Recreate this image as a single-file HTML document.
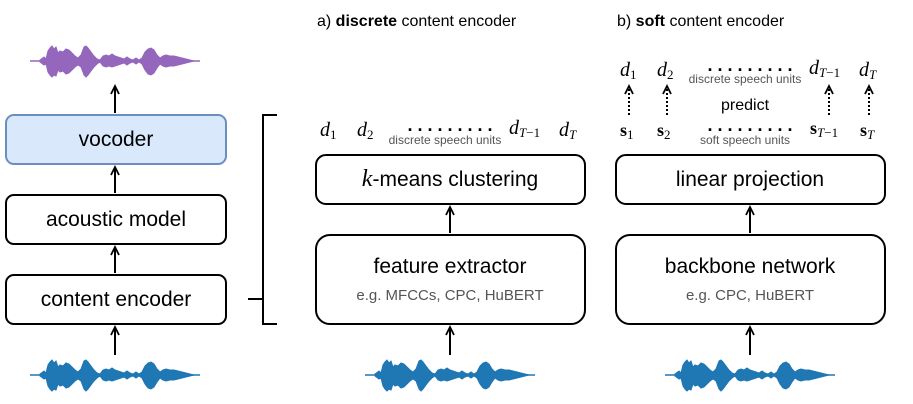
<!DOCTYPE html>
<html><head><meta charset="utf-8"><style>
html,body{margin:0;padding:0;background:#fff;}
svg{display:block;font-family:"Liberation Sans",sans-serif;}
.m{font-family:"Liberation Serif",serif;font-style:italic;font-size:20px;}
.b{font-family:"Liberation Serif",serif;font-weight:bold;font-size:18px;}
.sub{font-size:13px;}
</style></head><body>
<svg width="913" height="404" viewBox="0 0 913 404" xmlns="http://www.w3.org/2000/svg">
<defs>
<marker id="ah" markerWidth="12" markerHeight="12" refX="9" refY="5" orient="auto" markerUnits="userSpaceOnUse">
<path d="M1,1 L9,5 L1,9" fill="none" stroke="#000" stroke-width="1.8"/>
</marker>
<g id="wave">
<line x1="0" y1="0" x2="170" y2="0" stroke-width="1.5"/>
<polygon points="10,-1 14,-4 16,-2 18,-10 20,-13 22,-15 24,-12 26,-14 28,-8 30,-10 33,-9 36,-12 39,-11 42,-8 45,-5 48,-3 51,-6 54,-14 56,-15 58,-13 61,-9 64,-5 67,-2 70,-1 73,-5 76,-6 79,-5 82,-7 85,-5 88,-4 91,-3 94,-2 97,-4 100,-2 103,-1 106,-3 109,-1 112,-3 115,-9 118,-12 121,-13 124,-11 127,-6 130,-3 133,-5 136,-6 140,-5 144,-5 148,-4 152,-3 156,-2 160,-1 164,0
 160,1 156,2 152,3 148,4 144,5 140,5 136,6 133,5 130,3 127,7 124,12 121,14 118,13 115,9 112,3 109,1 106,3 103,1 100,2 97,4 94,2 91,3 88,4 85,5 82,6 79,5 76,6 73,5 70,1 67,3 64,6 61,10 58,14 56,16 54,14 51,6 48,4 45,6 42,9 39,12 36,13 33,10 30,11 28,9 26,15 24,14 22,16 20,14 18,11 16,3 14,4 10,1"/>
</g>
</defs>

<use href="#wave" x="30" y="61" fill="#9467bd" stroke="#9467bd"/>
<use href="#wave" x="30" y="375" fill="#1f77b4" stroke="#1f77b4"/>
<use href="#wave" x="365" y="375" fill="#1f77b4" stroke="#1f77b4"/>
<use href="#wave" x="665" y="375" fill="#1f77b4" stroke="#1f77b4"/>

<g stroke="#000" stroke-width="2" fill="none">
<rect x="6" y="115" width="220" height="49" rx="8" fill="#dae8fc" stroke="#6c8ebf"/>
<rect x="6" y="195" width="220" height="49" rx="8" fill="#fff"/>
<rect x="6" y="275" width="220" height="49" rx="8" fill="#fff"/>
<rect x="316" y="155" width="269" height="49" rx="10" fill="#fff"/>
<rect x="316" y="235" width="269" height="89" rx="14" fill="#fff"/>
<rect x="616" y="155" width="269" height="49" rx="10" fill="#fff"/>
<rect x="616" y="235" width="269" height="89" rx="14" fill="#fff"/>
<path d="M277,115 H263 V324 H277 M248,299 H263"/>
</g>

<g stroke="#000" stroke-width="2" marker-end="url(#ah)">
<line x1="115" y1="355" x2="115" y2="327"/>
<line x1="115" y1="273" x2="115" y2="247"/>
<line x1="115" y1="193" x2="115" y2="167"/>
<line x1="115" y1="113" x2="115" y2="86"/>
<line x1="450" y1="355" x2="450" y2="327"/>
<line x1="450" y1="233" x2="450" y2="207"/>
<line x1="750" y1="355" x2="750" y2="327"/>
<line x1="750" y1="233" x2="750" y2="207"/>
</g>
<g stroke="#000" stroke-width="2" stroke-dasharray="2,2" marker-end="url(#ah)">
<line x1="629" y1="115" x2="629" y2="86"/>
<line x1="667" y1="115" x2="667" y2="86"/>
<line x1="829" y1="115" x2="829" y2="86"/>
<line x1="869" y1="115" x2="869" y2="86"/>
</g>

<g font-size="21" text-anchor="middle" fill="#000">
<text x="116" y="146">vocoder</text>
<text x="116" y="226">acoustic model</text>
<text x="116" y="306">content encoder</text>
<text x="450" y="186"><tspan class="m" style="font-size:24px">k</tspan>-means clustering</text>
<text x="450" y="273">feature extractor</text>
<text x="750" y="186">linear projection</text>
<text x="750" y="273">backbone network</text>
</g>
<g font-size="15" text-anchor="middle" fill="#555">
<text x="450" y="300">e.g. MFCCs, CPC, HuBERT</text>
<text x="750" y="300">e.g. CPC, HuBERT</text>
</g>
<g font-size="16" fill="#000">
<text x="317" y="26">a) <tspan font-weight="bold">discrete</tspan> content encoder</text>
<text x="617" y="26">b) <tspan font-weight="bold">soft</tspan> content encoder</text>
<text x="745" y="110" text-anchor="middle">predict</text>
</g>

<text class="m" x="320" y="136">d<tspan class="sub" font-style="normal" dy="3">1</tspan></text>
<text class="m" x="357" y="136">d<tspan class="sub" font-style="normal" dy="3">2</tspan></text>
<text x="450" y="131" text-anchor="middle" font-size="18" font-weight="bold">. . .  . . .  . . .</text>
<text x="445" y="144" text-anchor="middle" font-size="12" fill="#555">discrete speech units</text>
<text class="m" x="509" y="134">d<tspan class="sub" dy="3">T</tspan><tspan class="sub" font-style="normal">−1</tspan></text>
<text class="m" x="559" y="136">d<tspan class="sub" dy="3">T</tspan></text>

<text class="m" x="620" y="76">d<tspan class="sub" font-style="normal" dy="3">1</tspan></text>
<text class="m" x="657" y="76">d<tspan class="sub" font-style="normal" dy="3">2</tspan></text>
<text x="750" y="71" text-anchor="middle" font-size="18" font-weight="bold">. . .  . . .  . . .</text>
<text x="745" y="83" text-anchor="middle" font-size="12" fill="#555">discrete speech units</text>
<text class="m" x="809" y="74">d<tspan class="sub" dy="3">T</tspan><tspan class="sub" font-style="normal">−1</tspan></text>
<text class="m" x="859" y="76">d<tspan class="sub" dy="3">T</tspan></text>

<text class="b" x="620" y="136">s<tspan class="sub" font-weight="normal" dy="3">1</tspan></text>
<text class="b" x="657" y="136">s<tspan class="sub" font-weight="normal" dy="3">2</tspan></text>
<text x="750" y="131" text-anchor="middle" font-size="18" font-weight="bold">. . .  . . .  . . .</text>
<text x="745" y="144" text-anchor="middle" font-size="12" fill="#555">soft speech units</text>
<text class="b" x="810" y="134">s<tspan class="sub" style="font-weight:normal;font-style:italic" dy="3">T</tspan><tspan class="sub" font-weight="normal">−1</tspan></text>
<text class="b" x="860" y="136">s<tspan class="sub" style="font-weight:normal;font-style:italic" dy="3">T</tspan></text>
</svg>
</body></html>
